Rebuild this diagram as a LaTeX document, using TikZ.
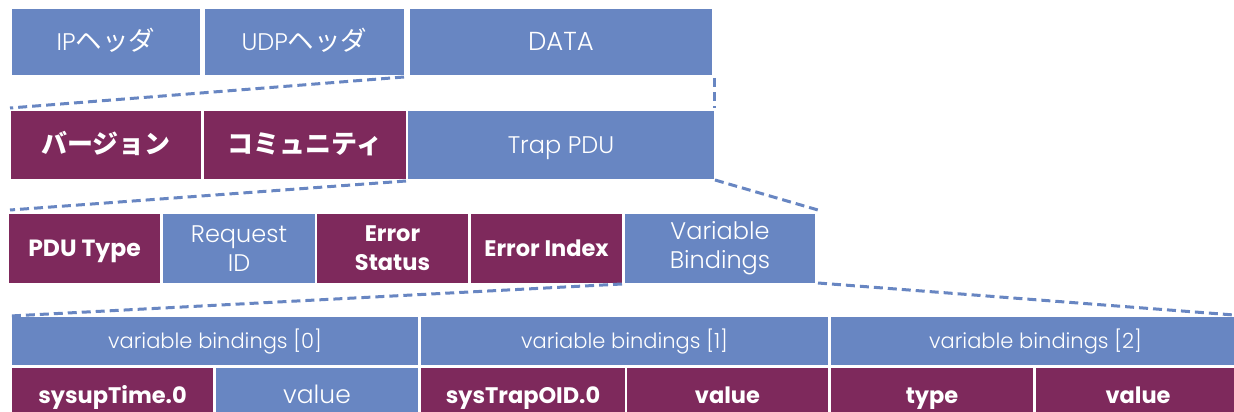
\documentclass[tikz,border=0pt]{standalone}
\usepackage{fontspec}
\setmainfont{Poppins}
\newfontfamily\lt{Poppins Light}
\newfontfamily\jp{Noto Sans CJK JP}
\definecolor{pblue}{HTML}{6886C2}
\definecolor{ppurp}{HTML}{7E295C}
\tikzset{
  blk/.style={inner sep=0pt, outer sep=0pt, text=white, align=center},
  bluebox/.style={blk, fill=pblue, font=\lt\fontsize{24}{29}\selectfont},
  smallblue/.style={blk, fill=pblue, font=\lt\fontsize{21}{24}\selectfont,
    text height=15pt, text depth=0pt},
  purpbox/.style={blk, fill=ppurp, font=\bfseries\fontsize{22.5}{29}\selectfont},
  oneline/.style={text height=#1, text depth=0pt},
  link/.style={draw=pblue, line width=3pt, dash pattern=on 9pt off 5pt},
}
\newcommand\jpb{\jp\bfseries\fontsize{26}{29}\selectfont}
\newcommand\jpl{\jp\fontsize{26.5}{29}\selectfont}
% \cell{name}{x1}{y1}{x2}{y2}{style}{text}
\newcommand\cell[7]{\node[#6, minimum width={(#4-#2)*1pt}, minimum height={(#5-#3)*1pt}] (#1) at ({(#2+#4)/2},{(#3+#5)/2}) {#7};}
\begin{document}
\begin{tikzpicture}[x=1pt, y=-1pt]
\useasboundingbox (0,0) rectangle (1234,412);
% IP packet
\cell{ip}{12}{9}{200}{75}{bluebox,oneline=17pt}{IP{\jpl ヘッダ}}
\cell{udp}{205}{9}{404}{75}{bluebox,oneline=17pt}{UDP{\jpl ヘッダ}}
\cell{data}{410}{9}{712}{75}{bluebox,oneline=17pt,font=\lt\fontsize{26}{29}\selectfont}{DATA}
% SNMP message
\cell{ver}{11}{111}{201}{179}{purpbox,oneline=17pt}{{\jpb バージョン}}
\cell{com}{204}{111}{406}{179}{purpbox,oneline=17pt}{{\jpb コミュニティ}}
\cell{trap}{408}{111}{714}{179}{bluebox,oneline=17pt}{Trap PDU}
% Trap PDU fields
\cell{pdut}{9}{214}{160}{283}{purpbox,oneline=16pt,font=\bfseries\fontsize{23.5}{29}\selectfont}{PDU Type}
\cell{reqid}{163}{214}{315}{283}{bluebox}{Request\\ID}
\cell{errst}{317}{214}{468}{283}{purpbox}{Error\\Status}
\cell{errix}{471}{214}{622}{283}{purpbox,oneline=16pt}{Error Index}
\cell{vb}{625}{214}{815}{283}{bluebox}{Variable\\Bindings}
% variable bindings
\cell{vb0}{12}{317}{418}{365}{smallblue}{variable bindings [0]}
\cell{vb1}{421}{317}{828}{365}{smallblue}{variable bindings [1]}
\cell{vb2}{831}{317}{1240}{365}{smallblue}{variable bindings [2]}
\cell{sysup}{12}{368}{213}{422}{purpbox,oneline=16pt}{sysupTime.0}
\cell{val0}{216}{368}{418}{422}{bluebox,oneline=16pt,font=\lt\fontsize{25}{29}\selectfont}{value}
\cell{systrap}{421}{368}{625}{422}{purpbox,oneline=16pt}{sysTrapOID.0}
\cell{val1}{627}{368}{828}{422}{purpbox,oneline=16pt}{value}
\cell{type}{831}{368}{1033}{422}{purpbox,oneline=16pt}{type}
\cell{val2}{1036}{368}{1240}{422}{purpbox,oneline=16pt}{value}
% expansion guides
\coordinate (c1) at (10,108);
\coordinate (d1) at (714,108);
\coordinate (c2) at (10,210);
\coordinate (c3) at (818,210);
\coordinate (c4) at (10,316);
\coordinate (c5) at (1234,315);
\draw[link] ([yshift=-2pt]udp.south east) -- (c1);
\draw[link] ([xshift=2pt,yshift=-3pt]data.south east) -- (d1);
\draw[link] ([yshift=-2pt]com.south east) -- (c2);
\draw[link] ([xshift=1pt,yshift=-1pt]trap.south east) -- (c3);
\draw[link] ([yshift=-1pt]errix.south east) -- (c4);
\draw[link] ([xshift=3pt]vb.south east) -- (c5);
\end{tikzpicture}
\end{document}
